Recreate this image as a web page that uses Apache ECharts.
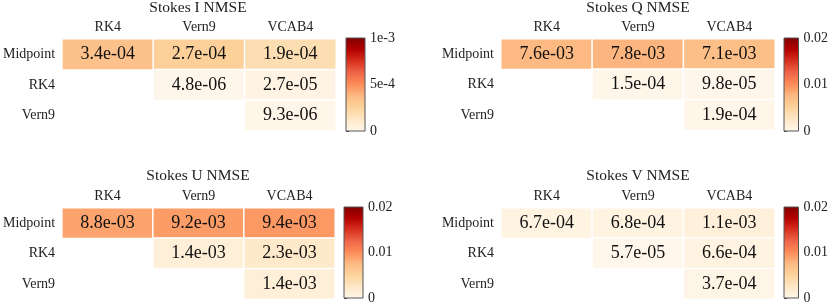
<!DOCTYPE html>
<html>
<head>
<meta charset="utf-8">
<script src="https://cdn.jsdelivr.net/npm/echarts@6/dist/echarts.min.js"></script>
<style>
html,body{margin:0;padding:0;background:#fff;}
#chart{width:831px;height:305px;}
</style>
</head>
<body>
<div id="chart"></div>
<script>
// ---- data ----
const columns = ['RK4', 'Vern9', 'VCAB4'];
const rows = ['Midpoint', 'RK4', 'Vern9'];
const titles = ['Stokes I NMSE', 'Stokes Q NMSE', 'Stokes U NMSE', 'Stokes V NMSE'];
const stokesI = [[3.4e-4, 2.7e-4, 1.9e-4], [null, 4.8e-6, 2.7e-5], [null, null, 9.3e-6]];
const stokesQ = [[7.6e-3, 7.8e-3, 7.1e-3], [null, 1.5e-4, 9.8e-5], [null, null, 1.9e-4]];
const stokesU = [[8.8e-3, 9.2e-3, 9.4e-3], [null, 1.4e-3, 2.3e-3], [null, null, 1.4e-3]];
const stokesV = [[6.7e-4, 6.8e-4, 1.1e-3], [null, 5.7e-5, 6.6e-4], [null, null, 3.7e-4]];
const colorMax = [1e-3, 0.02, 0.02, 0.02];
const tickLabelsI = ['0', '5e-4', '1e-3'];
const tickLabelsOther = ['0', '0.01', '0.02'];

const panels = [stokesI, stokesQ, stokesU, stokesV];
const tickLabels = [tickLabelsI, tickLabelsOther, tickLabelsOther, tickLabelsOther];

// ---- layout / style ----
const FONT = "'Liberation Serif', 'Times New Roman', serif";
const OrRd = ['#fff7ec', '#fee8c8', '#fdd49e', '#fdbb84', '#fc8d59', '#ef6548', '#d7301f', '#b30000', '#7f0000'];
const grids = [
  {left: 60, top: 39, width: 276, height: 92},
  {left: 501, top: 39, width: 274, height: 91},
  {left: 61, top: 208, width: 274, height: 91},
  {left: 501, top: 208, width: 274, height: 91}
];
const cbGrids = [
  {left: 346, top: 38, width: 19, height: 93},
  {left: 784, top: 38, width: 19, height: 93},
  {left: 344, top: 207, width: 19, height: 92},
  {left: 784, top: 207, width: 19, height: 92}
];
const titleTops = [0, 0, 168, 168];

function fmt(v) {
  const s = v.toExponential(1);
  const m = s.match(/^(-?[\d.]+)e([+-])(\d+)$/);
  let e = m[3];
  if (e.length < 2) e = '0' + e;
  return m[1] + 'e' + (m[2] === '-' ? '-' : '+') + e;
}

const option = {
  animation: false,
  backgroundColor: '#fff',
  textStyle: {fontFamily: FONT},
  title: [],
  grid: [],
  xAxis: [],
  yAxis: [],
  visualMap: [],
  series: []
};

panels.forEach((mat, p) => {
  const g = grids[p];
  option.title.push({
    text: titles[p],
    left: g.left + g.width / 2,
    top: titleTops[p],
    padding: 0,
    textAlign: 'center',
    textStyle: {fontFamily: FONT, fontSize: 15.5, fontWeight: 'normal', color: '#222'}
  });
  option.grid.push(Object.assign({containLabel: false}, g));
  option.xAxis.push({
    type: 'category', data: columns, gridIndex: p, position: 'top',
    axisLine: {show: false}, axisTick: {show: false}, splitLine: {show: false},
    axisLabel: {fontFamily: FONT, fontSize: 14, color: '#222', margin: 5}
  });
  option.yAxis.push({
    type: 'category', data: rows, gridIndex: p, inverse: true,
    axisLine: {show: false}, axisTick: {show: false}, splitLine: {show: false},
    axisLabel: {fontFamily: FONT, fontSize: 14, color: '#222', margin: 7}
  });
  const data = [];
  mat.forEach((row, r) => row.forEach((v, c) => { if (v !== null) data.push([c, r, v]); }));
  option.visualMap.push({
    show: false, type: 'continuous', min: 0, max: colorMax[p], seriesIndex: p,
    inRange: {color: OrRd}
  });
  option.series.push({
    type: 'heatmap', xAxisIndex: p, yAxisIndex: p, data: data,
    itemStyle: {borderColor: '#fff', borderWidth: 1.5},
    label: {show: true, fontFamily: FONT, fontSize: 18, color: '#111',
      formatter: (d) => fmt(d.value[2])},
    emphasis: {disabled: true}
  });
});

// colorbars
panels.forEach((mat, p) => {
  const gi = 4 + p;
  const M = colorMax[p];
  const labels = tickLabels[p];
  option.grid.push(cbGrids[p]);
  option.xAxis.push({type: 'value', gridIndex: gi, min: 0, max: 1, show: false});
  option.yAxis.push({
    type: 'value', gridIndex: gi, min: 0, max: M, interval: M / 2, position: 'right',
    axisLine: {show: false}, splitLine: {show: false},
    axisTick: {show: true, length: 3, lineStyle: {color: '#444'}},
    axisLabel: {fontFamily: FONT, fontSize: 14, color: '#222', margin: 5,
      formatter: (v) => labels[Math.round(v / (M / 2))]}
  });
  option.series.push({
    type: 'custom', xAxisIndex: gi, yAxisIndex: gi, silent: true,
    data: [[0, M]],
    renderItem: (params, api) => {
      const p0 = api.coord([0, 0]);
      const p1 = api.coord([1, api.value(1)]);
      return {
        type: 'rect',
        shape: {x: p0[0], y: p1[1], width: p1[0] - p0[0], height: p0[1] - p1[1]},
        style: {
          fill: new echarts.graphic.LinearGradient(0, 1, 0, 0,
            OrRd.map((c, i) => ({offset: i / (OrRd.length - 1), color: c}))),
          stroke: '#555', lineWidth: 1
        }
      };
    }
  });
});

const chart = echarts.init(document.getElementById('chart'), null, {renderer: 'canvas'});
chart.setOption(option);
</script>
</body>
</html>
